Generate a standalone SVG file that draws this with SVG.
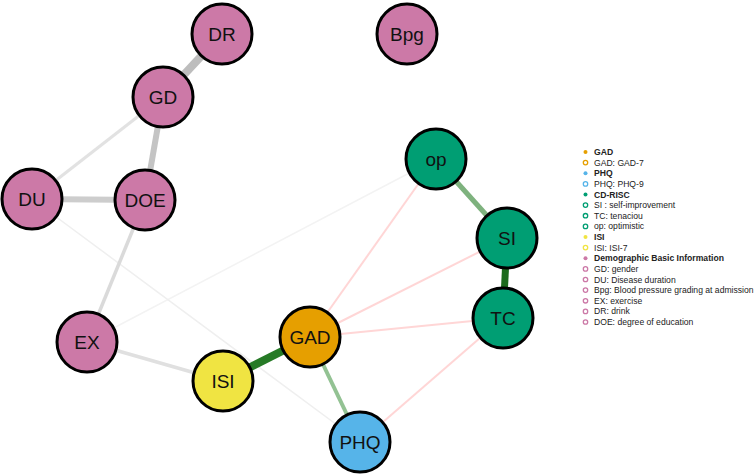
<svg xmlns="http://www.w3.org/2000/svg" width="756" height="474" viewBox="0 0 756 474">
<style>
.n{stroke:#000;stroke-width:3}
.t{font-family:"Liberation Sans",Arial,sans-serif;font-size:19px;text-anchor:middle;dominant-baseline:central;fill:#111}
.lg{font-family:"Liberation Sans",Arial,sans-serif;font-size:8.6px;fill:#222;dominant-baseline:central}
.b{font-weight:bold}
.e{fill:none;stroke-linecap:butt}
.pink{stroke:#ffd6d6;stroke-width:2}
.ho{fill:none;stroke-width:1.3}
</style>
<rect width="756" height="474" fill="#fff"/>
<g id="edges">
<line class="e" x1="87" y1="342" x2="436" y2="159" stroke="#f3f3f3" stroke-width="1.5"/>
<line class="e" x1="32" y1="199" x2="360" y2="442" stroke="#efefef" stroke-width="1.5"/>
<line class="e pink" x1="310" y1="337" x2="436" y2="159"/>
<line class="e pink" x1="310" y1="337" x2="507" y2="238"/>
<line class="e pink" x1="310" y1="337" x2="503" y2="318"/>
<line class="e pink" x1="360" y1="442" x2="503" y2="318"/>
<line class="e" x1="222" y1="34" x2="163" y2="97" stroke="#bdbdbd" stroke-width="8"/>
<line class="e" x1="163" y1="97" x2="145" y2="200" stroke="#c4c4c4" stroke-width="6"/>
<line class="e" x1="163" y1="97" x2="32" y2="199" stroke="#e2e2e2" stroke-width="3"/>
<line class="e" x1="32" y1="199" x2="145" y2="200" stroke="#cdcdcd" stroke-width="6"/>
<line class="e" x1="145" y1="200" x2="87" y2="342" stroke="#dadada" stroke-width="3.5"/>
<line class="e" x1="87" y1="342" x2="223" y2="381" stroke="#e0e0e0" stroke-width="3.5"/>
<line class="e" x1="223" y1="381" x2="310" y2="337" stroke="#267a26" stroke-width="8"/>
<line class="e" x1="310" y1="337" x2="360" y2="442" stroke="#93c293" stroke-width="4"/>
<line class="e" x1="436" y1="159" x2="507" y2="238" stroke="#7eb27e" stroke-width="5"/>
<line class="e" x1="507" y1="238" x2="503" y2="318" stroke="#1d6b1d" stroke-width="7"/>
</g>
<g id="DR"><circle class="n" cx="222" cy="34" r="30" fill="#cc79a7"/><text class="t" x="222" y="34">DR</text></g>
<g id="Bpg"><circle class="n" cx="407" cy="34" r="30" fill="#cc79a7"/><text class="t" x="407" y="34">Bpg</text></g>
<g id="GD"><circle class="n" cx="163" cy="97" r="30" fill="#cc79a7"/><text class="t" x="163" y="97">GD</text></g>
<g id="DU"><circle class="n" cx="32" cy="199" r="30" fill="#cc79a7"/><text class="t" x="32" y="199">DU</text></g>
<g id="DOE"><circle class="n" cx="145" cy="200" r="30" fill="#cc79a7"/><text class="t" x="145" y="200">DOE</text></g>
<g id="EX"><circle class="n" cx="87" cy="342" r="30" fill="#cc79a7"/><text class="t" x="87" y="342">EX</text></g>
<g id="ISI"><circle class="n" cx="223" cy="381" r="30" fill="#f0e442"/><text class="t" x="223" y="381">ISI</text></g>
<g id="GAD"><circle class="n" cx="310" cy="337" r="30" fill="#e69f00"/><text class="t" x="310" y="337">GAD</text></g>
<g id="PHQ"><circle class="n" cx="360" cy="442" r="30" fill="#56b4e9"/><text class="t" x="360" y="442">PHQ</text></g>
<g id="op"><circle class="n" cx="436" cy="159" r="30" fill="#009e73"/><text class="t" x="436" y="159">op</text></g>
<g id="SI"><circle class="n" cx="507" cy="238" r="30" fill="#009e73"/><text class="t" x="507" y="238">SI</text></g>
<g id="TC"><circle class="n" cx="503" cy="318" r="30" fill="#009e73"/><text class="t" x="503" y="318">TC</text></g>
<g id="legend">
<circle cx="585.5" cy="152" r="2" fill="#e69f00"/><text class="lg b" x="594" y="152">GAD</text>
<circle cx="585.5" cy="162.6" r="2.2" class="ho" stroke="#e69f00"/><text class="lg" x="594" y="162.6">GAD: GAD-7</text>
<circle cx="585.5" cy="173.2" r="2" fill="#56b4e9"/><text class="lg b" x="594" y="173.2">PHQ</text>
<circle cx="585.5" cy="183.9" r="2.2" class="ho" stroke="#56b4e9"/><text class="lg" x="594" y="183.9">PHQ: PHQ-9</text>
<circle cx="585.5" cy="194.5" r="2" fill="#009e73"/><text class="lg b" x="594" y="194.5">CD-RISC</text>
<circle cx="585.5" cy="205.1" r="2.2" class="ho" stroke="#009e73"/><text class="lg" x="594" y="205.1">SI : self-improvement</text>
<circle cx="585.5" cy="215.7" r="2.2" class="ho" stroke="#009e73"/><text class="lg" x="594" y="215.7">TC: tenaciou</text>
<circle cx="585.5" cy="226.4" r="2.2" class="ho" stroke="#009e73"/><text class="lg" x="594" y="226.4">op: optimistic</text>
<circle cx="585.5" cy="237" r="2" fill="#f0e442"/><text class="lg b" x="594" y="237">ISI</text>
<circle cx="585.5" cy="247.6" r="2.2" class="ho" stroke="#f0e442"/><text class="lg" x="594" y="247.6">ISI: ISI-7</text>
<circle cx="585.5" cy="258.3" r="2" fill="#cc79a7"/><text class="lg b" x="594" y="258.3">Demographic Basic Information</text>
<circle cx="585.5" cy="268.9" r="2.2" class="ho" stroke="#cc79a7"/><text class="lg" x="594" y="268.9">GD: gender</text>
<circle cx="585.5" cy="279.5" r="2.2" class="ho" stroke="#cc79a7"/><text class="lg" x="594" y="279.5">DU: Disease duration</text>
<circle cx="585.5" cy="290.1" r="2.2" class="ho" stroke="#cc79a7"/><text class="lg" x="594" y="290.1">Bpg: Blood pressure grading at admission</text>
<circle cx="585.5" cy="300.8" r="2.2" class="ho" stroke="#cc79a7"/><text class="lg" x="594" y="300.8">EX: exercise</text>
<circle cx="585.5" cy="311.4" r="2.2" class="ho" stroke="#cc79a7"/><text class="lg" x="594" y="311.4">DR: drink</text>
<circle cx="585.5" cy="322" r="2.2" class="ho" stroke="#cc79a7"/><text class="lg" x="594" y="322">DOE: degree of education</text>
</g>
</svg>
